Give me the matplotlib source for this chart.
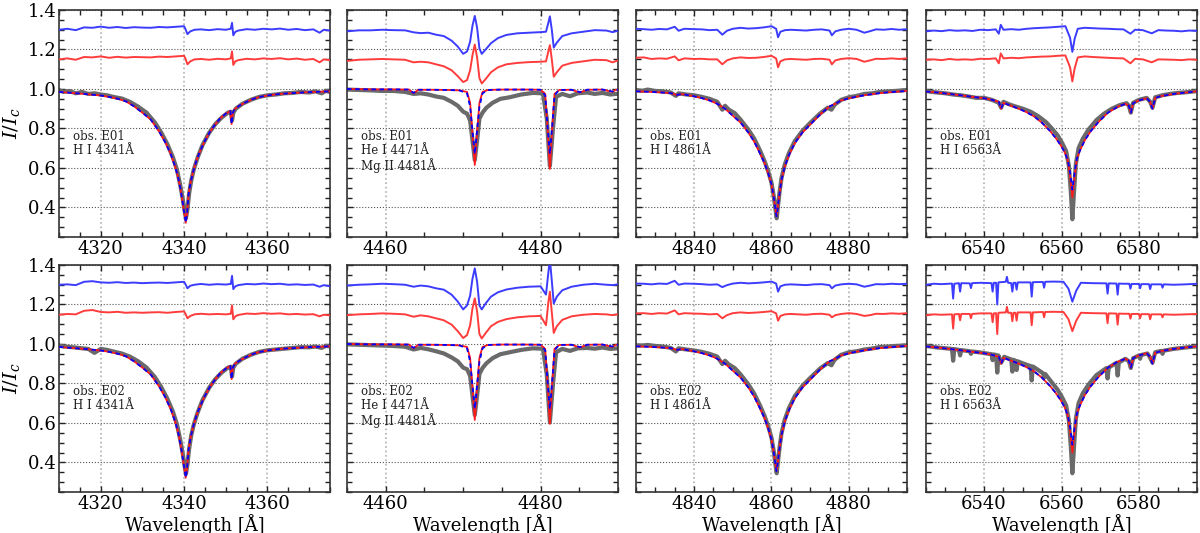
import matplotlib
matplotlib.use("Agg")
import matplotlib.pyplot as plt
from matplotlib.ticker import MultipleLocator

plt.rcParams['font.family'] = ['DejaVu Serif']
plt.rcParams['mathtext.fontset'] = 'dejavuserif'

# ---------------- H I 4341 (H gamma) ----------------
hg_wave = [4310, 4313, 4316, 4318, 4320, 4322, 4324, 4326, 4328, 4330, 4332, 4334, 4335.5,
           4336.8, 4337.8, 4338.6, 4339.2, 4339.7, 4340.1, 4340.4, 4340.7, 4341.1, 4341.6,
           4342.2, 4343.0, 4343.8, 4345, 4346.2, 4347.5, 4348.6, 4350, 4351.1, 4351.4, 4351.7,
           4352.2, 4353.4, 4355, 4356.6, 4358, 4360, 4363, 4366, 4370, 4375]
hg_model = [0.985, 0.980, 0.975, 0.971, 0.967, 0.960, 0.951, 0.938, 0.912, 0.880, 0.845, 0.785,
            0.730, 0.670, 0.610, 0.550, 0.485, 0.420, 0.365, 0.322, 0.370, 0.470, 0.530, 0.583,
            0.640, 0.683, 0.738, 0.783, 0.822, 0.850, 0.875, 0.888, 0.822, 0.880, 0.900, 0.917,
            0.935, 0.950, 0.959, 0.967, 0.975, 0.979, 0.984, 0.988]
hg_obs_wave = [4310, 4311, 4312.5, 4314, 4315.5, 4317, 4318.5, 4320, 4321.5, 4323, 4325, 4327,
               4329, 4331, 4333, 4334.5, 4336, 4337.3, 4338.3, 4339.1, 4339.7, 4340.1, 4340.45,
               4340.8, 4341.2, 4341.7, 4342.3, 4343.2, 4344.4, 4346, 4347.5, 4349, 4350.5,
               4351.2, 4351.5, 4351.8, 4352.4, 4354, 4356, 4358, 4360, 4362, 4364, 4366, 4368,
               4370, 4371.5, 4373, 4374, 4375]
hg_obs_e01 = [0.995, 0.985, 0.990, 0.978, 0.985, 0.975, 0.978, 0.972, 0.968, 0.960, 0.952, 0.935,
              0.910, 0.880, 0.830, 0.780, 0.720, 0.655, 0.590, 0.510, 0.440, 0.385, 0.345, 0.390,
              0.470, 0.535, 0.590, 0.650, 0.715, 0.778, 0.822, 0.855, 0.880, 0.885, 0.840, 0.880,
              0.900, 0.925, 0.945, 0.960, 0.968, 0.972, 0.978, 0.980, 0.985, 0.982, 0.988, 0.978,
              0.990, 0.985]
hg_obs_e02 = [0.992, 0.988, 0.985, 0.982, 0.978, 0.975, 0.955, 0.975, 0.970, 0.962, 0.952, 0.936,
              0.912, 0.880, 0.832, 0.782, 0.722, 0.658, 0.592, 0.512, 0.442, 0.385, 0.342, 0.388,
              0.468, 0.535, 0.590, 0.650, 0.715, 0.778, 0.822, 0.855, 0.880, 0.885, 0.835, 0.880,
              0.900, 0.925, 0.945, 0.960, 0.968, 0.972, 0.976, 0.980, 0.984, 0.983, 0.987, 0.980,
              0.990, 0.988]
hg_res_wave = [4310, 4312, 4314, 4316, 4318, 4320, 4322, 4324, 4326, 4328, 4330, 4332, 4334, 4336,
               4338, 4340, 4340.4, 4340.8, 4341.5, 4342.5, 4344, 4346, 4348, 4350, 4351.2, 4351.5,
               4351.8, 4352.3, 4353, 4355, 4357, 4359, 4361, 4363, 4365, 4367, 4369, 4371,
               4372.5, 4373.5, 4375]
hg_blue_e01 = [1.300, 1.305, 1.298, 1.312, 1.310, 1.316, 1.310, 1.314, 1.309, 1.313, 1.311, 1.310,
               1.314, 1.312, 1.315, 1.318, 1.300, 1.278, 1.292, 1.300, 1.302, 1.298, 1.303, 1.300,
               1.305, 1.335, 1.272, 1.290, 1.296, 1.303, 1.300, 1.305, 1.302, 1.306, 1.300, 1.304,
               1.298, 1.302, 1.285, 1.300, 1.296]
hg_red_e01 = [1.150, 1.155, 1.148, 1.162, 1.160, 1.165, 1.158, 1.163, 1.159, 1.162, 1.161, 1.160,
              1.164, 1.162, 1.165, 1.168, 1.150, 1.125, 1.140, 1.150, 1.152, 1.148, 1.153, 1.150,
              1.155, 1.190, 1.122, 1.140, 1.146, 1.153, 1.150, 1.155, 1.152, 1.156, 1.150, 1.154,
              1.148, 1.152, 1.135, 1.150, 1.146]
hg_blue_e02 = [1.300, 1.302, 1.298, 1.315, 1.318, 1.312, 1.310, 1.313, 1.309, 1.311, 1.308, 1.310,
               1.311, 1.309, 1.312, 1.315, 1.300, 1.282, 1.295, 1.300, 1.304, 1.300, 1.303, 1.301,
               1.304, 1.345, 1.278, 1.292, 1.298, 1.304, 1.302, 1.306, 1.303, 1.305, 1.300, 1.302,
               1.299, 1.301, 1.290, 1.298, 1.292]
hg_red_e02 = [1.148, 1.152, 1.150, 1.168, 1.172, 1.162, 1.160, 1.163, 1.158, 1.160, 1.158, 1.160,
              1.161, 1.158, 1.162, 1.165, 1.150, 1.130, 1.142, 1.150, 1.153, 1.150, 1.152, 1.150,
              1.153, 1.195, 1.125, 1.140, 1.147, 1.154, 1.152, 1.156, 1.153, 1.155, 1.150, 1.152,
              1.149, 1.151, 1.140, 1.148, 1.145]

# ---------------- He I 4471 / Mg II 4481 ----------------
he_wave = [4455, 4458, 4461, 4463, 4463.6, 4464.2, 4466, 4468, 4469.5, 4470.5, 4470.9, 4471.2,
           4471.5, 4471.8, 4472.1, 4472.5, 4473.2, 4475, 4478, 4480, 4480.6, 4480.9, 4481.2,
           4481.5, 4481.8, 4482.4, 4484, 4485.1, 4486, 4488, 4489.3, 4489.7, 4490]
he_model_red = [1.000, 0.998, 0.998, 0.997, 0.978, 0.996, 0.996, 0.995, 0.993, 0.985, 0.930,
                0.780, 0.615, 0.780, 0.930, 0.985, 0.995, 0.997, 0.997, 0.996, 0.975, 0.800,
                0.595, 0.800, 0.975, 0.995, 0.996, 0.982, 0.996, 0.997, 0.985, 0.996, 0.996]
he_model_blue = [1.000, 0.998, 0.998, 0.997, 0.980, 0.996, 0.996, 0.995, 0.993, 0.978, 0.910,
                 0.790, 0.670, 0.790, 0.910, 0.978, 0.995, 0.997, 0.997, 0.996, 0.968, 0.810,
                 0.670, 0.810, 0.968, 0.995, 0.996, 0.984, 0.996, 0.997, 0.987, 0.996, 0.996]
he_obs_wave = [4455, 4456.5, 4458, 4459.5, 4461, 4462.5, 4463.6, 4464.5, 4465.5, 4466.5, 4467.5,
               4468.5, 4469.3, 4470.0, 4470.5, 4470.9, 4471.2, 4471.5, 4471.8, 4472.1, 4472.5,
               4473.0, 4473.8, 4474.8, 4476, 4477.5, 4479, 4480.3, 4480.8, 4481.2, 4481.6,
               4482.0, 4482.8, 4483.8, 4484.8, 4486, 4487, 4488, 4489, 4490]
he_obs_e01 = [0.997, 0.995, 0.993, 0.990, 0.990, 0.985, 0.975, 0.978, 0.972, 0.962, 0.955, 0.935,
              0.915, 0.885, 0.875, 0.840, 0.740, 0.640, 0.740, 0.850, 0.880, 0.905, 0.930, 0.950,
              0.958, 0.972, 0.980, 0.978, 0.850, 0.610, 0.800, 0.960, 0.975, 0.963, 0.978, 0.982,
              0.975, 0.980, 0.972, 0.976]
he_obs_e02 = [0.998, 0.996, 0.994, 0.992, 0.990, 0.986, 0.972, 0.980, 0.973, 0.963, 0.952, 0.932,
              0.912, 0.880, 0.872, 0.838, 0.738, 0.640, 0.738, 0.848, 0.878, 0.902, 0.928, 0.948,
              0.958, 0.970, 0.978, 0.976, 0.845, 0.605, 0.795, 0.958, 0.975, 0.965, 0.978, 0.980,
              0.976, 0.982, 0.975, 0.978]
he_res_wave = [4455, 4456.5, 4458, 4459.5, 4461, 4462.5, 4463.6, 4464.5, 4465.5, 4466.5, 4467.5,
               4468.5, 4469.3, 4470.0, 4470.5, 4470.9, 4471.2, 4471.5, 4471.8, 4472.1, 4472.4,
               4472.9, 4473.6, 4474.5, 4475.6, 4477, 4478.5, 4480, 4480.7, 4481.0, 4481.2,
               4481.45, 4481.7, 4482.1, 4482.8, 4484, 4485.5, 4487, 4488.5, 4489.3, 4490]
he_blue_e01 = [1.292, 1.297, 1.297, 1.300, 1.298, 1.297, 1.287, 1.283, 1.285, 1.275, 1.268, 1.245,
               1.215, 1.178, 1.190, 1.240, 1.320, 1.370, 1.310, 1.205, 1.178, 1.200, 1.232, 1.258,
               1.274, 1.282, 1.285, 1.288, 1.290, 1.335, 1.368, 1.300, 1.210, 1.235, 1.268, 1.282,
               1.290, 1.298, 1.296, 1.288, 1.295]
he_red_e01 = [1.142, 1.148, 1.150, 1.152, 1.150, 1.148, 1.135, 1.138, 1.135, 1.125, 1.115, 1.095,
              1.065, 1.035, 1.045, 1.095, 1.170, 1.225, 1.160, 1.055, 1.028, 1.050, 1.085, 1.110,
              1.125, 1.132, 1.136, 1.138, 1.140, 1.190, 1.222, 1.150, 1.062, 1.085, 1.118, 1.132,
              1.140, 1.148, 1.146, 1.135, 1.145]
he_blue_e02 = [1.296, 1.300, 1.302, 1.305, 1.303, 1.300, 1.290, 1.296, 1.292, 1.282, 1.275, 1.250,
               1.215, 1.175, 1.195, 1.245, 1.330, 1.383, 1.315, 1.195, 1.175, 1.205, 1.240, 1.262,
               1.276, 1.285, 1.290, 1.292, 1.250, 1.360, 1.430, 1.320, 1.205, 1.240, 1.272, 1.290,
               1.300, 1.305, 1.300, 1.298, 1.302]
he_red_e02 = [1.146, 1.150, 1.152, 1.155, 1.153, 1.150, 1.138, 1.145, 1.140, 1.130, 1.120, 1.098,
              1.065, 1.030, 1.045, 1.095, 1.180, 1.231, 1.165, 1.050, 1.028, 1.055, 1.090, 1.112,
              1.126, 1.135, 1.140, 1.142, 1.095, 1.210, 1.265, 1.160, 1.056, 1.090, 1.122, 1.140,
              1.148, 1.152, 1.150, 1.146, 1.150]

# ---------------- H I 4861 (H beta) ----------------
hb_wave = [4825, 4828, 4831, 4834, 4835.5, 4837, 4840, 4842, 4844, 4846, 4848, 4850, 4852, 4854,
           4855.5, 4857, 4858.2, 4859.2, 4860, 4860.6, 4861.0, 4861.3, 4861.6, 4862.0, 4862.6,
           4863.4, 4864.5, 4866, 4868, 4870, 4872.5, 4875, 4875.7, 4876.5, 4878, 4880, 4882,
           4884, 4887, 4890, 4895]
hb_model = [0.988, 0.986, 0.983, 0.979, 0.970, 0.974, 0.963, 0.954, 0.942, 0.925, 0.900, 0.865,
            0.830, 0.780, 0.735, 0.675, 0.625, 0.570, 0.517, 0.450, 0.395, 0.355, 0.395, 0.460,
            0.540, 0.605, 0.665, 0.725, 0.780, 0.820, 0.870, 0.912, 0.918, 0.925, 0.942, 0.953,
            0.961, 0.968, 0.977, 0.983, 0.990]
hb_obs_wave = [4825, 4826.5, 4828, 4830, 4832, 4834, 4835.3, 4836, 4838, 4840, 4842, 4844, 4846,
               4847.3, 4848, 4849, 4850.5, 4852, 4854, 4855.5, 4857, 4858.2, 4859.2, 4860,
               4860.6, 4861.0, 4861.35, 4861.7, 4862.1, 4862.6, 4863.4, 4864.5, 4866, 4868,
               4870, 4872.5, 4874.5, 4875.5, 4876.3, 4878, 4880, 4882, 4884, 4886, 4888, 4890,
               4892, 4895]
hb_obs_e01 = [0.995, 0.990, 0.997, 0.990, 0.988, 0.982, 0.965, 0.978, 0.972, 0.968, 0.960, 0.950,
              0.935, 0.895, 0.915, 0.895, 0.878, 0.845, 0.795, 0.750, 0.690, 0.635, 0.580, 0.525,
              0.455, 0.395, 0.345, 0.410, 0.480, 0.550, 0.615, 0.675, 0.735, 0.788, 0.828, 0.875,
              0.905, 0.895, 0.920, 0.945, 0.958, 0.965, 0.975, 0.978, 0.985, 0.988, 0.990, 0.995]
hb_obs_e02 = [0.993, 0.992, 0.995, 0.990, 0.987, 0.980, 0.962, 0.978, 0.972, 0.967, 0.960, 0.950,
              0.936, 0.898, 0.915, 0.896, 0.878, 0.846, 0.796, 0.750, 0.690, 0.636, 0.580, 0.525,
              0.455, 0.392, 0.345, 0.408, 0.478, 0.548, 0.615, 0.675, 0.735, 0.788, 0.828, 0.875,
              0.903, 0.892, 0.920, 0.945, 0.958, 0.963, 0.972, 0.977, 0.985, 0.987, 0.990, 0.993]
hb_res_wave = [4825, 4827, 4829, 4831, 4833, 4835, 4836, 4837.5, 4840, 4842, 4844, 4846, 4847.3,
               4848.5, 4850, 4852, 4854, 4856, 4858, 4860, 4861.2, 4861.7, 4862.3, 4863.5, 4865,
               4867, 4869, 4871, 4873, 4875, 4875.6, 4876.5, 4878, 4880, 4882, 4884, 4885.5,
               4887, 4889, 4891, 4893, 4895]
hb_blue_e01 = [1.305, 1.303, 1.300, 1.304, 1.302, 1.315, 1.295, 1.305, 1.303, 1.302, 1.298, 1.300,
               1.275, 1.295, 1.305, 1.310, 1.306, 1.308, 1.312, 1.318, 1.305, 1.262, 1.290, 1.298,
               1.300, 1.298, 1.296, 1.300, 1.302, 1.296, 1.272, 1.292, 1.300, 1.305, 1.300, 1.285,
               1.293, 1.302, 1.300, 1.304, 1.300, 1.303]
hb_red_e01 = [1.158, 1.160, 1.152, 1.155, 1.153, 1.165, 1.145, 1.155, 1.152, 1.153, 1.150, 1.150,
              1.125, 1.145, 1.155, 1.160, 1.157, 1.158, 1.162, 1.168, 1.155, 1.110, 1.140, 1.150,
              1.152, 1.150, 1.148, 1.152, 1.153, 1.148, 1.125, 1.145, 1.152, 1.156, 1.152, 1.138,
              1.145, 1.153, 1.152, 1.155, 1.152, 1.155]
hb_blue_e02 = [1.306, 1.305, 1.302, 1.306, 1.304, 1.320, 1.300, 1.306, 1.305, 1.303, 1.300, 1.302,
               1.288, 1.298, 1.306, 1.310, 1.307, 1.309, 1.312, 1.316, 1.306, 1.265, 1.292, 1.300,
               1.302, 1.300, 1.298, 1.302, 1.303, 1.298, 1.282, 1.296, 1.302, 1.305, 1.302, 1.290,
               1.296, 1.303, 1.302, 1.305, 1.303, 1.305]
hb_red_e02 = [1.155, 1.156, 1.152, 1.156, 1.154, 1.170, 1.150, 1.156, 1.154, 1.153, 1.150, 1.152,
              1.130, 1.146, 1.156, 1.160, 1.157, 1.159, 1.162, 1.166, 1.155, 1.118, 1.142, 1.150,
              1.152, 1.150, 1.148, 1.152, 1.153, 1.148, 1.135, 1.146, 1.152, 1.156, 1.152, 1.142,
              1.146, 1.153, 1.152, 1.155, 1.153, 1.156]

# ---------------- H I 6563 (H alpha) ----------------
ha_wave = [6525, 6528, 6531, 6534, 6537, 6540, 6542, 6543.8, 6544.4, 6545, 6547, 6549, 6551, 6553,
           6555, 6557, 6558.5, 6559.8, 6560.8, 6561.6, 6562.2, 6562.8, 6563.4, 6564.0, 6564.8,
           6566, 6567.5, 6569.5, 6572, 6574.5, 6576.5, 6577.4, 6577.9, 6578.5, 6580, 6582,
           6582.9, 6583.5, 6584.2, 6586, 6589, 6592, 6595]
ha_model_red = [0.987, 0.982, 0.975, 0.968, 0.960, 0.953, 0.945, 0.935, 0.900, 0.930, 0.915, 0.900,
                0.882, 0.860, 0.828, 0.788, 0.752, 0.715, 0.680, 0.640, 0.560, 0.450, 0.560, 0.650,
                0.690, 0.740, 0.785, 0.832, 0.880, 0.910, 0.925, 0.915, 0.880, 0.928, 0.942, 0.953,
                0.935, 0.900, 0.955, 0.965, 0.975, 0.982, 0.988]
ha_model_blue = [0.987, 0.982, 0.975, 0.968, 0.960, 0.953, 0.945, 0.935, 0.900, 0.930, 0.915, 0.900,
                 0.882, 0.860, 0.828, 0.788, 0.752, 0.715, 0.680, 0.640, 0.580, 0.490, 0.580, 0.650,
                 0.690, 0.740, 0.785, 0.832, 0.880, 0.910, 0.925, 0.915, 0.880, 0.928, 0.942, 0.953,
                 0.935, 0.900, 0.955, 0.965, 0.975, 0.982, 0.988]
ha_obs_wave = [6525, 6526.5, 6528, 6530, 6532, 6534, 6536, 6538, 6540, 6542, 6543.8, 6544.4, 6545,
               6546.5, 6548, 6550, 6552, 6554, 6556, 6557.5, 6559, 6560.2, 6561.2, 6561.9, 6562.4,
               6562.8, 6563.2, 6563.7, 6564.4, 6565.5, 6567, 6569, 6571, 6573, 6575, 6576.8,
               6577.4, 6577.9, 6578.5, 6580, 6582, 6582.9, 6583.5, 6584.2, 6586, 6588, 6590, 6592,
               6594, 6595]
ha_obs_e01 = [0.990, 0.985, 0.982, 0.978, 0.972, 0.968, 0.962, 0.955, 0.955, 0.945, 0.930, 0.905,
              0.935, 0.922, 0.912, 0.900, 0.885, 0.862, 0.832, 0.800, 0.765, 0.725, 0.685, 0.610,
              0.480, 0.340, 0.470, 0.620, 0.700, 0.748, 0.795, 0.842, 0.875, 0.900, 0.918, 0.928,
              0.915, 0.880, 0.930, 0.945, 0.955, 0.935, 0.905, 0.958, 0.968, 0.975, 0.980, 0.983,
              0.987, 0.990]
ha_obs2_wave = [6525, 6528, 6531.7, 6532.0, 6532.3, 6533.5, 6533.8, 6534.1, 6536.3, 6536.6, 6536.9,
                6539, 6541.9, 6542.2, 6542.5, 6543.1, 6543.4, 6543.7, 6544.4, 6545.2, 6546.5,
                6547.0, 6547.3, 6547.6, 6548.1, 6548.4, 6548.7, 6550, 6552.0, 6552.3, 6552.6, 6554,
                6555.2, 6555.5, 6555.8, 6557.5, 6559, 6560.2, 6561.2, 6561.9, 6562.4, 6562.8,
                6563.2, 6563.7, 6564.4, 6565.5, 6567, 6569, 6571.6, 6571.9, 6572.2, 6574.2, 6574.5,
                6574.8, 6576.5, 6577.4, 6577.9, 6578.5, 6580.0, 6580.3, 6580.6, 6582.2, 6582.9,
                6583.5, 6584.2, 6585.8, 6586.1, 6586.4, 6589, 6592, 6595]
ha_obs_e02 = [0.990, 0.982, 0.975, 0.915, 0.974, 0.970, 0.942, 0.969, 0.963, 0.950, 0.962, 0.957,
              0.948, 0.918, 0.947, 0.944, 0.855, 0.942, 0.905, 0.935, 0.925, 0.922, 0.860, 0.920,
              0.915, 0.868, 0.912, 0.902, 0.888, 0.815, 0.886, 0.868, 0.852, 0.830, 0.848, 0.805,
              0.768, 0.728, 0.688, 0.612, 0.480, 0.345, 0.470, 0.620, 0.700, 0.750, 0.795, 0.842,
              0.878, 0.825, 0.880, 0.905, 0.840, 0.906, 0.925, 0.912, 0.878, 0.928, 0.942, 0.925,
              0.944, 0.952, 0.930, 0.905, 0.958, 0.965, 0.950, 0.966, 0.975, 0.982, 0.988]
ha_res_wave = [6525, 6527, 6529, 6531, 6533, 6535, 6537, 6539, 6541, 6543, 6543.8, 6544.3, 6545,
               6547, 6549, 6551, 6553, 6555, 6557, 6559, 6561, 6562.2, 6562.8, 6563.4, 6564.2,
               6566, 6568, 6570, 6572, 6574, 6576, 6577.8, 6579, 6581, 6583.3, 6585, 6587, 6589,
               6591, 6593, 6595]
ha_blue_e01 = [1.292, 1.296, 1.293, 1.298, 1.295, 1.297, 1.294, 1.300, 1.298, 1.302, 1.280, 1.325,
               1.300, 1.303, 1.300, 1.305, 1.308, 1.310, 1.312, 1.315, 1.318, 1.260, 1.188, 1.255,
               1.305, 1.310, 1.308, 1.306, 1.305, 1.303, 1.302, 1.280, 1.300, 1.298, 1.282, 1.298,
               1.296, 1.295, 1.292, 1.296, 1.294]
ha_red_e01 = [1.148, 1.150, 1.146, 1.152, 1.148, 1.150, 1.148, 1.153, 1.152, 1.155, 1.130, 1.180,
              1.155, 1.158, 1.156, 1.160, 1.162, 1.164, 1.165, 1.168, 1.170, 1.110, 1.038, 1.105,
              1.160, 1.165, 1.162, 1.160, 1.158, 1.156, 1.155, 1.130, 1.153, 1.150, 1.135, 1.150,
              1.149, 1.148, 1.146, 1.150, 1.148]
ha_res2_wave = [6525, 6527, 6529, 6531.7, 6532.0, 6532.3, 6533.5, 6533.8, 6534.1, 6536.3, 6536.6,
                6536.9, 6539, 6541.9, 6542.2, 6542.5, 6543.1, 6543.4, 6543.7, 6545.6, 6545.9,
                6546.2, 6547.0, 6547.3, 6547.6, 6548.1, 6548.4, 6548.7, 6550, 6552.0, 6552.3,
                6552.6, 6555.2, 6555.5, 6555.8, 6558, 6560.5, 6561.8, 6562.8, 6563.8, 6565, 6568,
                6571.6, 6571.9, 6572.2, 6574.2, 6574.5, 6574.8, 6576, 6577.5, 6577.8, 6578.1,
                6580.0, 6580.3, 6580.6, 6582.6, 6582.9, 6583.2, 6585.8, 6586.1, 6586.4, 6589,
                6592, 6595]
ha_blue_e02 = [1.300, 1.305, 1.303, 1.306, 1.230, 1.305, 1.308, 1.265, 1.308, 1.307, 1.283, 1.308,
               1.310, 1.308, 1.265, 1.310, 1.310, 1.200, 1.312, 1.315, 1.340, 1.310, 1.308, 1.265,
               1.310, 1.310, 1.275, 1.312, 1.312, 1.312, 1.240, 1.313, 1.314, 1.285, 1.315, 1.316,
               1.315, 1.280, 1.214, 1.270, 1.310, 1.308, 1.307, 1.255, 1.307, 1.306, 1.250, 1.306,
               1.305, 1.305, 1.280, 1.304, 1.304, 1.282, 1.303, 1.303, 1.278, 1.302, 1.302, 1.285,
               1.302, 1.300, 1.302, 1.305]
ha_red_e02 = [1.145, 1.150, 1.148, 1.150, 1.078, 1.150, 1.152, 1.120, 1.152, 1.152, 1.130, 1.152,
              1.155, 1.155, 1.110, 1.155, 1.156, 1.050, 1.158, 1.160, 1.188, 1.158, 1.158, 1.115,
              1.158, 1.158, 1.118, 1.160, 1.160, 1.160, 1.095, 1.160, 1.162, 1.135, 1.162, 1.163,
              1.162, 1.125, 1.065, 1.118, 1.158, 1.156, 1.155, 1.105, 1.155, 1.154, 1.098, 1.154,
              1.153, 1.153, 1.128, 1.152, 1.152, 1.130, 1.151, 1.151, 1.125, 1.150, 1.150, 1.135,
              1.150, 1.148, 1.150, 1.152]

x_limits = [(4310, 4375), (4455, 4490), (4825, 4895), (6525, 6595)]
obs_labels = ['obs. E01', 'obs. E02']
line_labels = ['H I 4341Å', 'He I 4471Å\nMg II 4481Å', 'H I 4861Å', 'H I 6563Å']

# panel contents: (obs wave, obs flux, model wave, red model, blue model, res wave, blue res, red res)
panels = [
    [
        (hg_obs_wave, hg_obs_e01, hg_wave, hg_model, hg_model, hg_res_wave, hg_blue_e01, hg_red_e01),
        (he_obs_wave, he_obs_e01, he_wave, he_model_red, he_model_blue, he_res_wave, he_blue_e01, he_red_e01),
        (hb_obs_wave, hb_obs_e01, hb_wave, hb_model, hb_model, hb_res_wave, hb_blue_e01, hb_red_e01),
        (ha_obs_wave, ha_obs_e01, ha_wave, ha_model_red, ha_model_blue, ha_res_wave, ha_blue_e01, ha_red_e01),
    ],
    [
        (hg_obs_wave, hg_obs_e02, hg_wave, hg_model, hg_model, hg_res_wave, hg_blue_e02, hg_red_e02),
        (he_obs_wave, he_obs_e02, he_wave, he_model_red, he_model_blue, he_res_wave, he_blue_e02, he_red_e02),
        (hb_obs_wave, hb_obs_e02, hb_wave, hb_model, hb_model, hb_res_wave, hb_blue_e02, hb_red_e02),
        (ha_obs2_wave, ha_obs_e02, ha_wave, ha_model_red, ha_model_blue, ha_res2_wave, ha_blue_e02, ha_red_e02),
    ],
]

fig = plt.figure(figsize=(12, 5.33), dpi=100)

col_left = [0.0492, 0.2892, 0.5300, 0.7717]
row_bottom = [0.5553, 0.0769]
ax_w, ax_h = 0.2258, 0.4259

for r in range(2):
    for c in range(4):
        ax = fig.add_axes([col_left[c], row_bottom[r], ax_w, ax_h])
        ow, of, mw, mred, mblue, rw, rblue, rred = panels[r][c]

        ax.plot(rw, rblue, color='#3c3cff', lw=1.4, zorder=3)
        ax.plot(rw, rred, color='#ff3c3c', lw=1.4, zorder=3)
        ax.plot(ow, of, color='#6a6a6a', lw=3.0, zorder=2)
        ax.plot(mw, mred, color='#ff1a1a', lw=1.3, zorder=4)
        ax.plot(mw, mblue, color='#0000ff', lw=1.3, ls=(0, (2.5, 2)), zorder=5)

        ax.set_xlim(*x_limits[c])
        ax.set_ylim(0.25, 1.4)
        ax.xaxis.set_major_locator(MultipleLocator(20))
        ax.xaxis.set_minor_locator(MultipleLocator(5))
        ax.yaxis.set_major_locator(MultipleLocator(0.2))
        ax.yaxis.set_minor_locator(MultipleLocator(0.05))
        ax.tick_params(which='both', direction='in', top=True, right=True,
                       labelsize=13, pad=2, color='#222222')
        ax.tick_params(which='major', length=4.5, width=1.0)
        ax.tick_params(which='minor', length=3.5, width=1.0)
        ax.grid(True, axis='x', which='major', ls=':', color='#b0b0b0', lw=1.2, zorder=0)
        ax.grid(True, axis='y', which='major', ls=':', color='#555555', lw=0.8, zorder=0)
        for sp in ax.spines.values():
            sp.set_linewidth(1.2)
            sp.set_color('#333333')

        if c == 0:
            ax.set_ylabel(r'$I/I_c$', fontsize=14, labelpad=4)
        else:
            ax.set_yticklabels([])
        if r == 1:
            ax.set_xlabel('Wavelength [Å]', fontsize=13, labelpad=1)

        ax.text(0.05, 0.47, obs_labels[r] + '\n' + line_labels[c], transform=ax.transAxes,
                fontsize=8.5, va='top', ha='left', linespacing=1.1, color='#222222', zorder=6)

fig.savefig('out.png', dpi=100)
